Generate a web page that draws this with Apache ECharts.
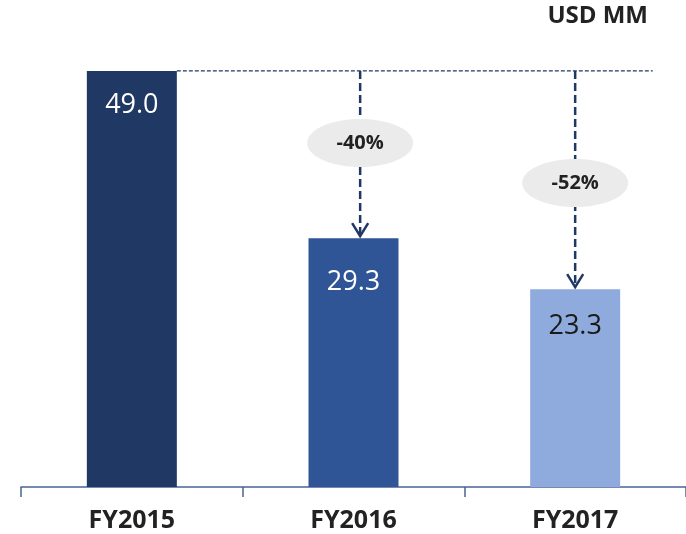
<!DOCTYPE html>
<html><head><meta charset="utf-8">
<script src="https://cdn.jsdelivr.net/npm/echarts@6/dist/echarts.min.js"></script>
<style>html,body{margin:0;padding:0;background:#fff}#c{width:686px;height:534px}</style>
</head><body><div id="c"></div>
<script>
const categories = ['FY2015', 'FY2016', 'FY2017'];
const values = [49.0, 29.3, 23.3];
const barColors = ['#1F3864', '#2F5597', '#8FAADC'];
const labelColors = ['#ffffff', '#ffffff', '#1a1a1a'];
const changeLabels = ['-40%', '-52%'];
const changeIndex = [1, 2];
const bubbleValues = [40.5, 35.8];
const unitLabel = 'USD MM';

const chart = echarts.init(document.getElementById('c'));
const font = '"Open Sans", "Liberation Sans", sans-serif';
const labelDist = [21, 31, 24];

const arrowData = changeIndex.map((ci, i) => [ci, values[0], values[ci], bubbleValues[i], changeLabels[i]]);

chart.setOption({
  animation: false,
  grid: { left: 21, right: -3, top: 20, bottom: 47 },
  xAxis: {
    type: 'category', data: categories, boundaryGap: true,
    axisLine: { show: true, lineStyle: { color: '#4a6496', width: 1.5 } },
    axisTick: { show: true, alignWithLabel: false, interval: 0, length: 10, lineStyle: { color: '#4a6496', width: 1.5 } },
    axisLabel: { margin: 21, fontSize: 25, fontWeight: 'bold', color: '#222', fontFamily: font }
  },
  yAxis: { type: 'value', min: 0, max: 55, show: false, splitLine: { show: false } },
  graphic: [{ type: 'text', right: 38, top: 4, style: { text: unitLabel, font: 'bold 24px ' + font, fill: '#222' } }],
  series: [
    {
      type: 'bar', barWidth: 90,
      data: values.map((v, i) => ({ value: v, itemStyle: { color: barColors[i] },
        label: { color: labelColors[i], distance: labelDist[i] } })),
      label: { show: true, position: 'insideTop', fontSize: 27, fontFamily: font,
        formatter: p => p.value.toFixed(1) },
      z: 2
    },
    {
      type: 'custom', data: arrowData, z: 5,
      renderItem: function (params, api) {
        const idx = api.value(0);
        const band = api.size([1, 0])[0];
        const top = api.coord([idx, api.value(1)]);
        const bot = api.coord([idx, api.value(2)]);
        const bub = api.coord([idx, api.value(3)]);
        const x = top[0] + (idx === 1 ? band * 0.03 : 0);
        const children = [];
        if (params.dataIndex === 0) {
          const p0 = api.coord([0, api.value(1)]);
          const pEnd = api.coord([2, api.value(1)]);
          children.push({ type: 'line', shape: { x1: p0[0] + 45, y1: p0[1], x2: pEnd[0] + band * 0.35, y2: p0[1] },
            style: { stroke: '#1F3864', lineWidth: 1.2, lineDash: [4, 2] } });
        }
        children.push({ type: 'line', shape: { x1: x, y1: top[1], x2: x, y2: bot[1] - 2 },
          style: { stroke: '#1F3864', lineWidth: 2.5, lineDash: [8, 4] } });
        children.push({ type: 'polyline', shape: { points: [[x - 8, bot[1] - 15], [x, bot[1] - 2], [x + 8, bot[1] - 15]] },
          style: { stroke: '#1F3864', lineWidth: 2.5, fill: null } });
        children.push({ type: 'ellipse', shape: { cx: x, cy: bub[1], rx: 53, ry: 24 },
          style: { fill: '#ebebeb' } });
        children.push({ type: 'text', x: x, y: bub[1], style: { text: api.value(4), font: 'bold 20px ' + font,
          fill: '#222', align: 'center', verticalAlign: 'middle' } });
        return { type: 'group', children };
      }
    }
  ]
});
</script></body></html>
